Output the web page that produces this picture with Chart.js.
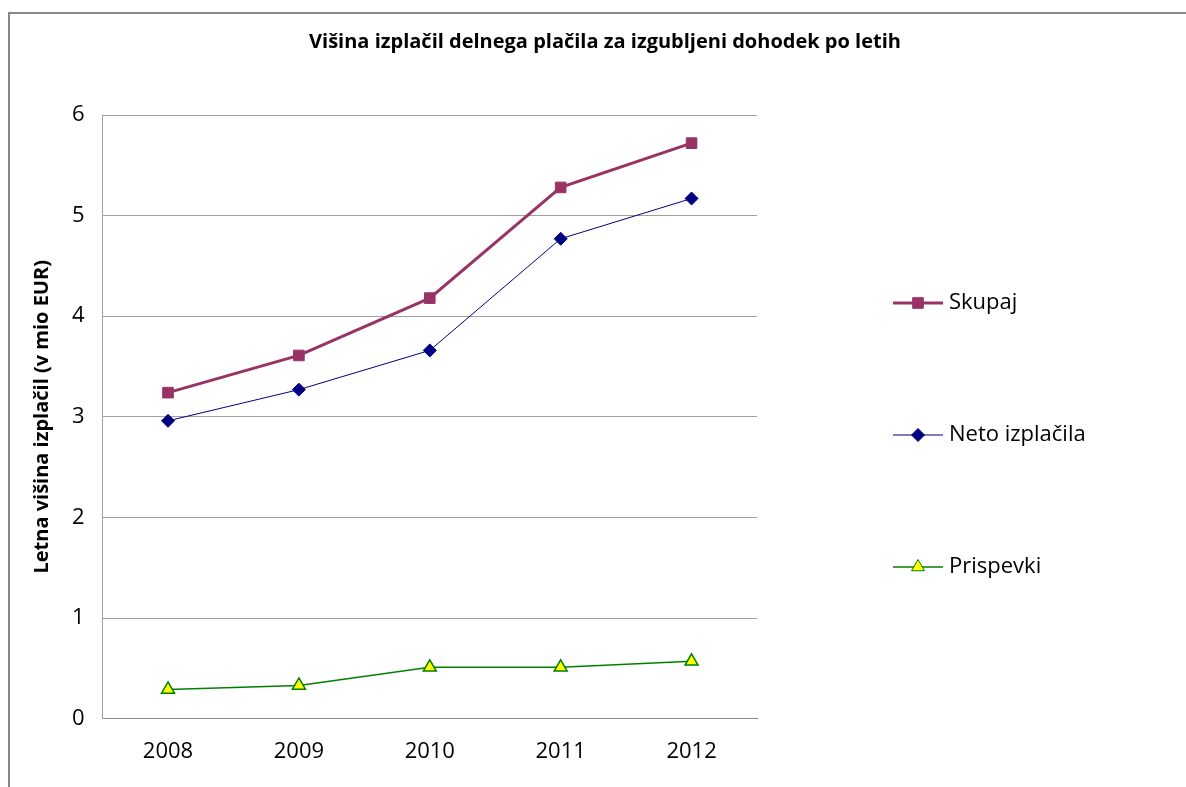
<!DOCTYPE html>
<html>
<head>
<meta charset="utf-8">
<script src="https://cdn.jsdelivr.net/npm/chart.js@4.4.0/dist/chart.umd.min.js"></script>
<style>
  html, body { margin: 0; padding: 0; background: #fff; }
  #wrap { position: relative; width: 1186px; height: 787px; }
  #frame { position: absolute; left: 8px; top: 12px; width: 1178px; height: 775px;
           border-top: 2px solid #888; border-left: 2px solid #888; box-sizing: border-box; }
  canvas { position: absolute; left: 0; top: 0; }
</style>
</head>
<body>
<div id="wrap">
  <div id="frame"></div>
  <canvas id="myChart" width="1186" height="787"></canvas>
</div>
<script>
var leta = ['2008', '2009', '2010', '2011', '2012'];
var skupaj = [3.24, 3.61, 4.18, 5.28, 5.72];
var neto_izplacila = [2.96, 3.27, 3.66, 4.77, 5.17];
var prispevki = [0.29, 0.33, 0.51, 0.51, 0.57];
var y_ticks = [0, 1, 2, 3, 4, 5, 6];
var naslov = 'Višina izplačil delnega plačila za izgubljeni dohodek po letih';

var pisava = "'Open Sans', 'DejaVu Sans', sans-serif";

// naslov na sredini celotne slike in legenda na desni
var legenda = {
    id: 'legenda',
    afterDraw: function (chart) {
        var ctx = chart.ctx;
        ctx.save();
        ctx.fillStyle = '#000';
        ctx.font = 'bold 20px ' + pisava;
        ctx.textAlign = 'center';
        ctx.textBaseline = 'middle';
        ctx.fillText(naslov, 605, 42);
        ctx.restore();

        var vrstice = [303, 435, 567];
        chart.data.datasets.forEach(function (ds, i) {
            var y = vrstice[i];
            var x0 = 893, x1 = 943;
            ctx.save();
            ctx.strokeStyle = ds.borderColor;
            ctx.lineWidth = ds.borderWidth;
            ctx.beginPath();
            ctx.moveTo(x0, y);
            ctx.lineTo(x1, y);
            ctx.stroke();
            ctx.fillStyle = ds.pointBackgroundColor;
            ctx.strokeStyle = ds.pointBorderColor;
            ctx.lineWidth = 1;
            Chart.helpers.drawPoint(ctx, {
                pointStyle: ds.pointStyle,
                radius: ds.pointRadius,
                rotation: 0,
                borderWidth: 1
            }, (x0 + x1) / 2, y);
            ctx.fillStyle = '#000';
            ctx.font = '22px ' + pisava;
            ctx.textBaseline = 'middle';
            ctx.textAlign = 'left';
            ctx.fillText(ds.label, x1 + 6, y);
            ctx.restore();
        });
    }
};

var ctx = document.getElementById('myChart').getContext('2d');
var myChart = new Chart(ctx, {
    type: 'line',
    data: {
        labels: leta,
        datasets: [{
            label: 'Skupaj',
            data: skupaj,
            borderColor: '#993366',
            backgroundColor: '#993366',
            pointBackgroundColor: '#993366',
            pointBorderColor: '#993366',
            borderWidth: 3,
            pointStyle: 'rect',
            pointRadius: 7.5,
            pointBorderWidth: 1
        }, {
            label: 'Neto izplačila',
            data: neto_izplacila,
            borderColor: '#000080',
            backgroundColor: '#000080',
            pointBackgroundColor: '#000080',
            pointBorderColor: '#000080',
            borderWidth: 1,
            pointStyle: 'rectRot',
            pointRadius: 6.5,
            pointBorderWidth: 1
        }, {
            label: 'Prispevki',
            data: prispevki,
            borderColor: '#008000',
            backgroundColor: '#ffff00',
            pointBackgroundColor: '#ffff00',
            pointBorderColor: '#008000',
            borderWidth: 1.5,
            pointStyle: 'triangle',
            pointRadius: 7.5,
            pointBorderWidth: 1.5
        }]
    },
    options: {
        responsive: false,
        animation: false,
        layout: { padding: { left: 30, right: 429, top: 115, bottom: 2 } },
        plugins: {
            legend: { display: false },
            tooltip: { enabled: false },
            title: { display: false }
        },
        scales: {
            x: {
                offset: true,
                grid: { display: false, drawTicks: false },
                border: { color: '#888', width: 1 },
                ticks: { color: '#000', font: { family: pisava, size: 22 }, padding: 20 }
            },
            y: {
                min: 0,
                max: 6,
                afterBuildTicks: function (axis) {
                    axis.ticks = y_ticks.map(function (v) { return { value: v }; });
                },
                grid: { color: '#a0a0a0', drawTicks: false },
                border: { color: '#a0a0a0', width: 1 },
                ticks: { color: '#000', font: { family: pisava, size: 22 }, padding: 18 },
                title: {
                    display: true,
                    text: 'Letna višina izplačil (v mio EUR)',
                    color: '#000',
                    font: { family: pisava, size: 20, weight: 'bold' },
                    padding: { top: 0, bottom: 0 }
                }
            }
        }
    },
    plugins: [legenda]
});
</script>
</body>
</html>
